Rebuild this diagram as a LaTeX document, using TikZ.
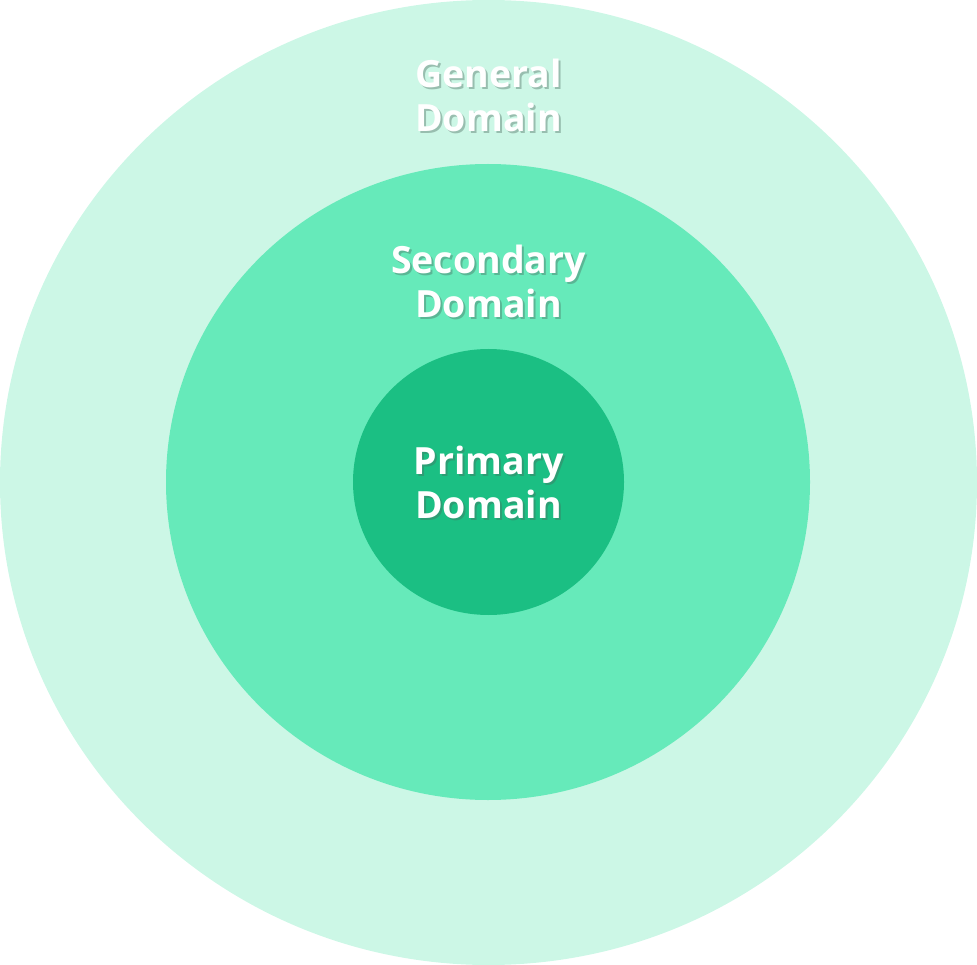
\documentclass[tikz,border=0pt]{standalone}
\usepackage{fontspec}
\setmainfont{Open Sans}
\usetikzlibrary{shapes.geometric,calc}
\definecolor{outerring}{HTML}{CCF7E6}
\definecolor{midring}{HTML}{66EABA}
\definecolor{core}{HTML}{1BBF83}
\definecolor{shade}{HTML}{4A6A5E}
\tikzset{
  ring/.style={ellipse, draw=none, inner sep=0pt},
  lab/.style={text=white, font=\fontsize{37.5}{44}\selectfont\bfseries, align=center},
  labshadow/.style={text=shade, opacity=0.4, font=\fontsize{37.5}{44}\selectfont\bfseries, align=center},
}
\newcommand{\domainlabel}[3]{%
  \node[labshadow] at ($(#1)+(2,-2)$) {#3};
  \node[lab] (#2) at (#1) {#3};
}
\begin{document}
\begin{tikzpicture}[x=1pt,y=1pt]
  \useasboundingbox (0,0) rectangle (977,-965);

  \node[ring, fill=outerring, minimum width=977, minimum height=965] (general) at (488.5,-482.5) {};
  \node[ring, fill=midring, minimum width=644, minimum height=636] (secondary) at (488,-482) {};
  \node[ring, fill=core, minimum width=271, minimum height=266] (primary) at (488.5,-482) {};

  \coordinate (gpos) at (488.5,-95);   % general label
  \coordinate (spos) at (488.5,-281);  % secondary label
  \coordinate (ppos) at (488.5,-482);  % primary label

  \domainlabel{gpos}{generallab}{General\\Domain}
  \domainlabel{spos}{secondarylab}{Secondary\\Domain}
  \domainlabel{ppos}{primarylab}{Primary\\Domain}
\end{tikzpicture}
\end{document}
